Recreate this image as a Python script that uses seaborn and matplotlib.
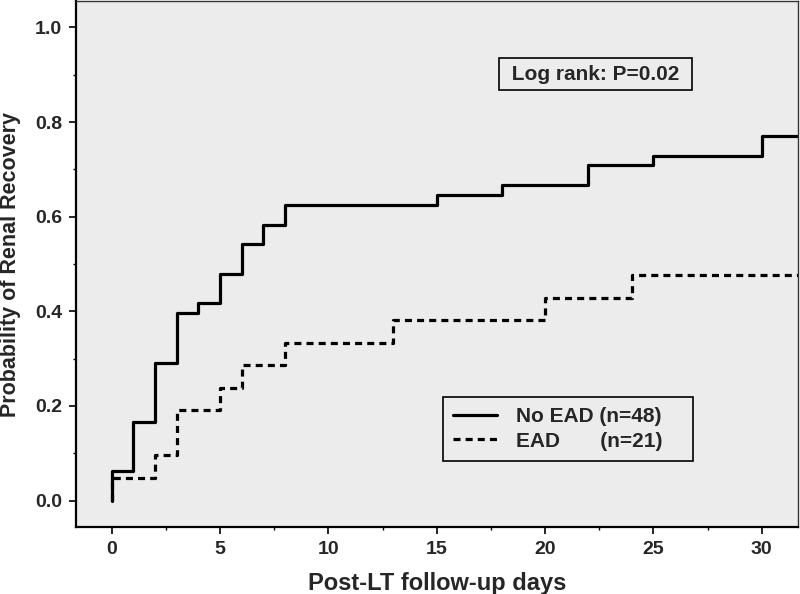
import pandas as pd
import matplotlib
matplotlib.use('Agg')
import matplotlib.pyplot as plt
from matplotlib.ticker import MultipleLocator
import seaborn as sns

# Kaplan-Meier steps (time in days, cumulative probability of renal recovery)
no_ead_days = [0, 0, 1, 2, 3, 4, 5, 6, 7, 8, 15, 18, 22, 25, 30, 32]
no_ead_prob = [0.0, 0.0625, 0.1667, 0.2917, 0.3958, 0.4167, 0.4792, 0.5417,
               0.5833, 0.625, 0.6458, 0.6667, 0.7083, 0.7292, 0.7708, 0.7708]

ead_days = [0, 0, 2, 3, 5, 6, 8, 13, 20, 24, 32]
ead_prob = [0.0, 0.0476, 0.0952, 0.1905, 0.2381, 0.2857, 0.3333, 0.3810,
            0.4286, 0.4762, 0.4762]

groups = ['No EAD', 'EAD']
legend_labels = ['No EAD (n=48)', 'EAD       (n=21)']
y_ticks = [0.0, 0.2, 0.4, 0.6, 0.8, 1.0]
x_ticks = [0, 5, 10, 15, 20, 25, 30]


def main():
    df = pd.concat([
        pd.DataFrame({'days': no_ead_days, 'prob': no_ead_prob, 'group': groups[0]}),
        pd.DataFrame({'days': ead_days, 'prob': ead_prob, 'group': groups[1]}),
    ], ignore_index=True)

    sns.set_theme(style='ticks')
    plt.rcParams['font.family'] = ['Liberation Sans', 'DejaVu Sans']

    fig = plt.figure(figsize=(8, 5.94), dpi=100)
    ax = fig.add_axes([0.095, 0.1128, 0.9025, 0.8855])
    ax.set_facecolor('#ececec')

    sns.lineplot(data=df, x='days', y='prob', hue='group', style='group',
                 hue_order=groups, style_order=groups,
                 palette={'No EAD': 'black', 'EAD': 'black'},
                 dashes={'No EAD': '', 'EAD': (2.2, 1.6)},
                 estimator=None, sort=False, drawstyle='steps-post',
                 linewidth=2.3, legend=False, ax=ax)

    ax.set_xlim(-1.65, 31.67)
    ax.set_ylim(-0.056, 1.056)
    ax.set_xticks(x_ticks)
    ax.set_yticks(y_ticks)
    ax.set_yticklabels([f'{v:.1f}' for v in y_ticks])
    ax.xaxis.set_minor_locator(MultipleLocator(2.5))
    ax.yaxis.set_minor_locator(MultipleLocator(0.1))
    ax.tick_params(which='major', direction='out', length=5, width=1.2,
                   labelsize=14, color='black', pad=5)
    ax.tick_params(which='minor', direction='out', length=2.5, width=1.0,
                   color='black')
    for lab in ax.get_xticklabels() + ax.get_yticklabels():
        lab.set_fontweight('bold')

    for side in ['left', 'bottom']:
        ax.spines[side].set_linewidth(1.6)
        ax.spines[side].set_color('black')
    for side in ['top', 'right']:
        ax.spines[side].set_visible(True)
        ax.spines[side].set_linewidth(1.0)
        ax.spines[side].set_color('#333333')

    ax.set_xlabel('Post-LT follow-up days', fontsize=17, fontweight='bold')
    ax.set_ylabel('Probability of Renal Recovery', fontsize=15.5, fontweight='bold')
    ax.xaxis.set_label_coords(0.5, -0.085)
    ax.yaxis.set_label_coords(-0.076, 0.5)

    leg = ax.legend(ax.get_lines()[:2], legend_labels, loc='upper left',
                    bbox_to_anchor=(0.508, 0.126, 0.346, 0.121), mode='expand',
                    borderaxespad=0, fancybox=False, frameon=True,
                    handlelength=2.1, handletextpad=0.9, borderpad=0.5,
                    labelspacing=0.25, prop={'weight': 'bold', 'size': 15})
    leg.get_frame().set_edgecolor('black')
    leg.get_frame().set_facecolor('#ececec')
    leg.get_frame().set_linewidth(1.2)
    leg.get_frame().set_alpha(1)

    ax.text(0.719, 0.861, ' Log rank: P=0.02 ', transform=ax.transAxes,
            ha='center', va='center', fontsize=15, fontweight='bold',
            bbox=dict(boxstyle='square,pad=0.33', facecolor='#ececec',
                      edgecolor='black', linewidth=1.2))

    fig.savefig('out.png', dpi=100)


if __name__ == "__main__":
    main()
